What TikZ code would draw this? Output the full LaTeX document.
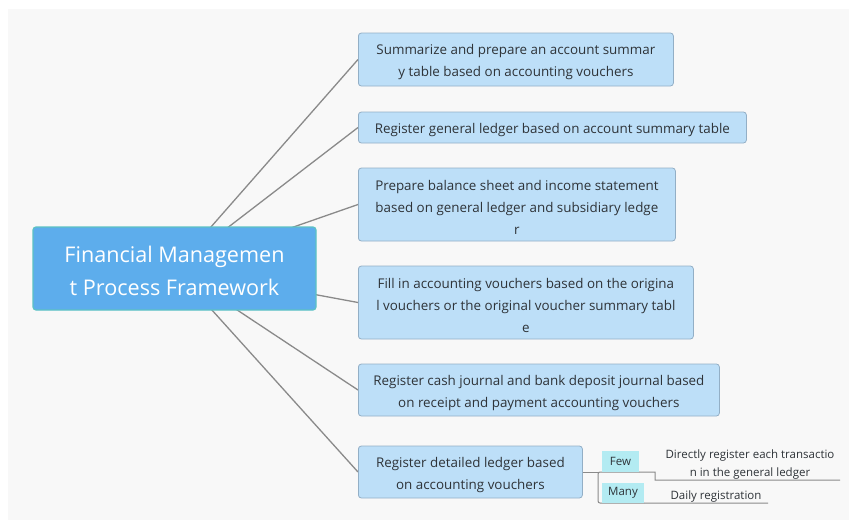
\documentclass[tikz,border=0pt]{standalone}
\usepackage{fontspec}
\setmainfont{Open Sans}
\usetikzlibrary{backgrounds}
\definecolor{canvas}{HTML}{F8F8F8}
\definecolor{rootfill}{HTML}{5DADEC}
\definecolor{rootedge}{HTML}{5CC2C4}
\definecolor{topicfill}{HTML}{BDDFF8}
\definecolor{topicedge}{HTML}{93AFC6}
\definecolor{tagfill}{HTML}{B3EBF2}
\definecolor{ink}{HTML}{2E3338}
\definecolor{linkgrey}{HTML}{8A8A8A}
\begin{document}
\begin{tikzpicture}[x=1pt,y=-1pt,
  rootbox/.style={rectangle, rounded corners=3pt, fill=rootfill, draw=rootedge,
    line width=1.2pt, inner sep=0pt, minimum width=283pt, minimum height=83pt},
  roottext/.style={text=white, align=center, inner sep=0pt, yshift=-2pt,
    font=\fontsize{21.6}{33}\selectfont},
  topic/.style={rectangle, rounded corners=3pt, fill=topicfill, draw=topicedge,
    line width=0.8pt, inner sep=0pt, anchor=west},
  topictext/.style={text=ink, align=center, inner sep=0pt, yshift=-3pt,
    font=\fontsize{13.4}{22}\selectfont},
  tag/.style={rectangle, fill=tagfill, text=ink, inner sep=0pt,
    font=\fontsize{11.5}{14}\selectfont},
  leaf/.style={text=ink, align=center, inner sep=0pt,
    font=\fontsize{11.5}{18}\selectfont},
  link/.style={draw=linkgrey, line width=1.3pt},
  branch/.style={draw=linkgrey, line width=1pt}
]
\useasboundingbox (0,0) rectangle (849,520);

% root topic
\node[rootbox, label={[roottext, name=rootlabel]center:{Financial Managemen\\t Process Framework}}]
  (root) at (174.5,268.5) {};

% main branches: box plus centred caption
\node[topic, minimum width=315pt, minimum height=53pt,
  label={[topictext, name=t1]center:{Summarize and prepare an account summar\\y table based on accounting vouchers}}]
  (b1) at (358,59.5) {};
\node[topic, minimum width=388pt, minimum height=31pt,
  label={[topictext, name=t2]center:{Register general ledger based on account summary table}}]
  (b2) at (358,127.5) {};
\node[topic, minimum width=317pt, minimum height=73pt,
  label={[topictext, name=t3]center:{Prepare balance sheet and income statement\\based on general ledger and subsidiary ledge\\r}}]
  (b3) at (358,204.5) {};
\node[topic, minimum width=335pt, minimum height=73pt,
  label={[topictext, name=t4]center:{Fill in accounting vouchers based on the origina\\l vouchers or the original voucher summary tabl\\e}}]
  (b4) at (358,302.5) {};
\node[topic, minimum width=361pt, minimum height=52pt,
  label={[topictext, name=t5]center:{Register cash journal and bank deposit journal based\\on receipt and payment accounting vouchers}}]
  (b5) at (358,390) {};
\node[topic, minimum width=224pt, minimum height=52pt,
  label={[topictext, name=t6]center:{Register detailed ledger based\\on accounting vouchers}}]
  (b6) at (358,472) {};

% sub-branches of the detailed ledger
\node[tag, minimum width=37pt, minimum height=21pt] (few) at (620.5,461.5) {Few};
\node[tag, minimum width=42pt, minimum height=20pt] (many) at (623,493) {Many};
\node[leaf] (direct) at (750,464.5) {Directly register each transactio\\n in the general ledger};
\node[leaf] (daily) at (716,496.5) {Daily registration};

\coordinate (fork) at (598,472);
\coordinate (forkend) at (598,503);
\coordinate (step) at (655,472);
\coordinate (directend) at (840,480);
\coordinate (dailyend) at (768,503);

\begin{pgfonlayer}{background}
  \fill[white] (0,0) rectangle (849,520);
  \fill[canvas] (8,9) rectangle (849,520);
  \foreach \b in {b1,b2,b3,b4,b5,b6}
    \draw[link] (root.center) -- (\b.west);
  \draw[branch] (b6.east) -- (fork);
  \draw[branch, rounded corners=2pt] (few.south east) -- (fork) -- (forkend) -- (many.south east);
  \draw[branch] (few.south east) -- (step) |- (directend);
  \draw[branch] (many.south east) -- (dailyend);
\end{pgfonlayer}
\end{tikzpicture}
\end{document}
